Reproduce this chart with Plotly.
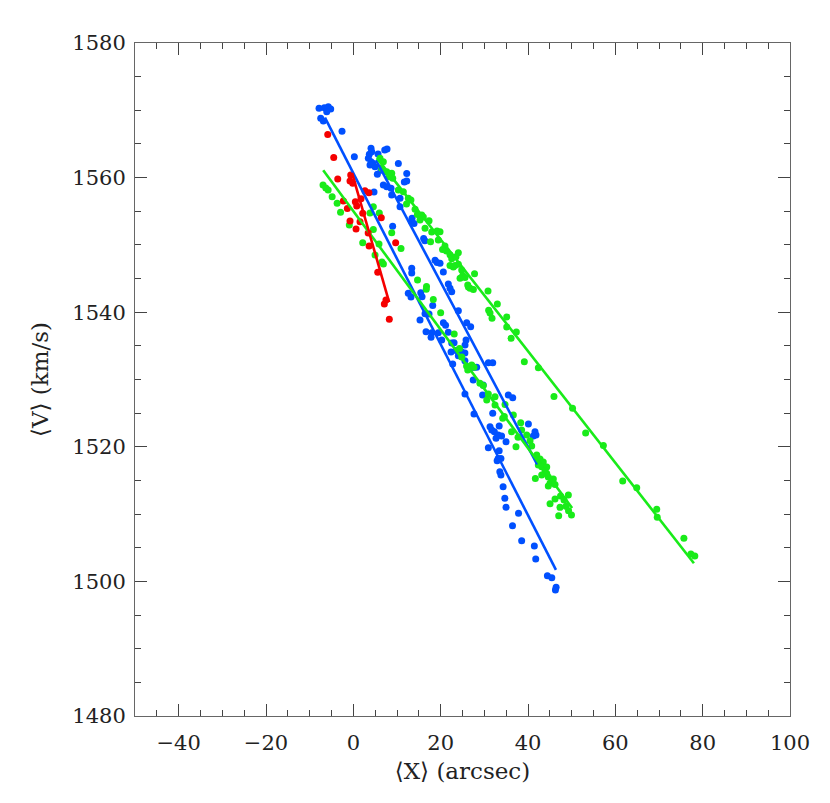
import plotly.graph_objects as go

# ---- data ----
red_x = [-5.86, -4.49, -3.57, -0.6, -0.76, -0.14, 2.66, 3.57, 1.76, -2.29, 0.46, 0.78, -1.37,
         2.15, -0.76, 1.53, 0.62, 3.4, 3.61, 6.4, 9.69, 5.59, 7.47, 7.1, 8.24]
red_y = [1566.4, 1563.0, 1559.8, 1560.4, 1559.5, 1559.15, 1558.05, 1557.76, 1556.87, 1556.52,
         1556.42, 1555.78, 1555.41, 1554.7, 1553.55, 1553.45, 1552.36, 1551.77, 1549.84, 1554.04,
         1550.33, 1545.93, 1541.81, 1541.22, 1538.95]

blue_x = [-7.85, -6.64, -5.73, -5.18, -6.09, -7.47, -6.87, -2.59, 0.23, 4.05, 4.21, 3.66, 3.44,
          5.66, 7.19, 7.72, 3.82, 4.44, 4.97, 4.05, 5.50, 6.34, 10.31, 12.23, 6.87, 7.65, 8.64,
          11.68, 12.23, 4.74, 8.78, 10.69, 10.69, 13.44, 13.37, 13.9, 9.0, 16.1, 16.38, 18.72,
          19.18, 19.85, 13.37, 13.37, 20.61, 12.58, 13.2, 15.44, 15.74, 21.75, 22.14, 22.53,
          18.18, 16.42, 17.33, 24.05, 15.27, 20.62, 21.12, 25.96, 26.87, 16.65, 17.96, 17.8,
          19.46, 21.75, 20.24, 22.53, 23.07, 25.81, 25.58, 22.37, 23.51, 24.8, 25.55, 24.05,
          25.55, 22.76, 27.11, 27.63, 28.25, 30.92, 31.92, 27.45, 29.74, 25.56, 29.6, 35.49,
          36.5, 27.63, 31.92, 31.3, 31.69, 32.29, 33.4, 33.17, 33.95, 40.09, 41.6, 41.83, 41.22,
          32.68, 34.97, 30.92, 33.4, 33.17, 33.8, 32.93, 33.55, 33.8, 34.3, 34.69, 34.97, 37.83,
          36.45, 38.55, 41.45, 41.77, 44.44, 45.45, 46.44, 46.28]
blue_y = [1570.3, 1570.39, 1570.53, 1570.19, 1569.79, 1568.81, 1568.41, 1566.88, 1563.11, 1564.35,
          1563.85, 1563.46, 1562.87, 1563.51, 1564.1, 1564.25, 1561.87, 1562.12, 1561.62, 1562.36,
          1560.49, 1561.08, 1562.1, 1560.61, 1558.9, 1558.65, 1558.41, 1559.35, 1559.5, 1557.86,
          1557.41, 1556.92, 1555.68, 1553.95, 1553.45, 1553.18, 1552.76, 1550.95, 1550.62, 1547.71,
          1547.38, 1547.27, 1546.52, 1545.82, 1545.97, 1542.81, 1542.26, 1542.9, 1542.3, 1544.19,
          1543.55, 1543.05, 1541.0, 1539.78, 1539.73, 1540.22, 1538.83, 1538.45, 1538.05, 1538.44,
          1537.85, 1537.1, 1536.95, 1536.27, 1536.95, 1537.01, 1535.87, 1535.42, 1535.47, 1535.87,
          1535.13, 1534.09, 1534.31, 1534.09, 1533.93, 1533.54, 1532.8, 1532.3, 1531.81, 1531.81,
          1531.81, 1532.5, 1532.5, 1529.93, 1529.18, 1527.85, 1527.7, 1527.7, 1527.3, 1524.87,
          1524.97, 1522.99, 1522.5, 1522.24, 1523.09, 1521.75, 1521.6, 1523.39, 1522.24, 1521.75,
          1521.6, 1521.26, 1520.75, 1519.86, 1519.41, 1518.28, 1518.28, 1517.93, 1516.3, 1515.81,
          1514.07, 1512.35, 1511.01, 1510.12, 1508.28, 1506.05, 1505.26, 1503.33, 1500.85, 1500.55,
          1499.12, 1498.72]

green_x = [-6.94, -6.30, -5.77, -4.85, -3.71, -2.93, -0.92, 2.15, 3.82, 4.58, 5.95, 4.58, 8.79,
           5.88, 4.97, 6.55, 6.89, 10.92, 14.7, 16.76, 16.71, 18.31, 20.0, 23.1, 24.32, 24.82,
           25.93, 26.2, 27.11, 27.63, 28.99, 29.76, 30.92, 30.55, 32.45, 32.45, 34.74, 34.21,
           34.58, 36.64, 36.23, 38.33, 38.54, 37.25, 37.72, 39.7, 40.46, 40.85, 42.0, 42.75,
           43.5, 42.36, 43.14, 44.29, 43.9, 44.29, 44.65, 43.14, 41.68, 45.8, 45.05, 44.65,
           46.19, 46.19, 47.45, 48.25, 49.24, 45.05, 47.33, 48.71, 49.28, 49.96, 47.03,
           6.11, 6.87, 6.49, 7.65, 8.79, 9.02, 8.24, 10.31, 11.45, 12.6, 13.19, 12.18, 14.14,
           14.67, 15.66, 16.03, 15.27, 17.34, 16.42, 17.95, 19.16, 19.85, 19.46, 17.68, 20.98,
           21.33, 20.43, 22.14, 22.53, 24.05, 23.51, 22.14, 23.28, 24.05, 22.9, 24.82, 25.05,
           25.58, 24.44, 26.2, 26.73, 27.49, 26.35, 27.76, 30.84, 32.98, 30.99, 31.3, 31.76,
           35.13, 35.13, 37.33, 36.13, 39.16, 42.37, 45.95, 50.2, 53.2, 57.26, 61.69, 64.9,
           69.48, 69.6, 75.7, 77.3, 78.2]
green_y = [1558.9, 1558.46, 1558.16, 1557.16, 1556.18, 1554.84, 1552.96, 1550.33, 1554.74, 1555.68,
           1554.74, 1552.29, 1551.81, 1550.13, 1548.5, 1547.46, 1547.16, 1549.47, 1544.78, 1543.82,
           1543.4, 1541.89, 1539.93, 1536.76, 1534.61, 1533.34, 1532.0, 1531.41, 1532.15, 1531.81,
           1529.43, 1529.1, 1527.85, 1526.95, 1527.44, 1526.21, 1526.28, 1524.23, 1524.5, 1524.72,
           1522.24, 1523.58, 1522.5, 1520.01, 1521.41, 1521.75, 1520.91, 1520.12, 1518.78, 1518.19,
           1517.74, 1517.3, 1517.04, 1517.0, 1516.4, 1516.03, 1515.51, 1515.81, 1515.3, 1515.22,
           1514.58, 1514.18, 1514.4, 1512.24, 1512.69, 1512.09, 1512.83, 1511.55, 1511.0, 1511.15,
           1510.51, 1509.88, 1509.76,
           1562.87, 1562.36, 1561.38, 1560.88, 1560.64, 1559.9, 1560.13, 1558.16, 1557.9, 1556.92,
           1556.67, 1556.08, 1555.29, 1554.52, 1554.44, 1554.15, 1553.7, 1553.6, 1552.47, 1551.92,
           1552.07, 1551.96, 1550.73, 1550.48, 1549.84, 1549.09, 1549.32, 1548.54, 1547.93, 1548.84,
           1548.25, 1546.94, 1546.94, 1547.12, 1546.72, 1546.26, 1545.44, 1545.15, 1545.03, 1544.04,
           1543.55, 1543.37, 1543.74, 1545.72, 1543.15, 1541.22, 1540.28, 1539.88, 1539.09, 1539.29,
           1537.8, 1537.06, 1536.12, 1532.64, 1531.76, 1527.46, 1525.72, 1522.05, 1520.19, 1514.92,
           1513.92, 1510.71, 1509.52, 1506.4, 1504.07, 1503.77]

# fitted lines (endpoints)
red_fit_x = [-0.3, 8.2]
red_fit_y = [1560.7, 1541.5]
blue_fit1_x = [-6.5, 46.4]
blue_fit1_y = [1568.9, 1501.7]
blue_fit2_x = [5.2, 42.1]
blue_fit2_y = [1562.6, 1517.4]
green_fit1_x = [-6.9, 50.1]
green_fit1_y = [1561.1, 1510.9]
green_fit2_x = [5.4, 78.0]
green_fit2_y = [1562.9, 1502.7]

x_ticks = [-40, -20, 0, 20, 40, 60, 80, 100]
y_ticks = [1480, 1500, 1520, 1540, 1560, 1580]

RED = "rgb(245,0,0)"
BLUE = "rgb(0,80,255)"
GREEN = "rgb(25,235,25)"

fig = go.Figure()

def pts(x, y, c):
    fig.add_trace(go.Scatter(x=x, y=y, mode="markers",
                             marker=dict(color=c, size=7, line=dict(width=0)),
                             showlegend=False, hoverinfo="skip"))

def ln(x, y, c):
    fig.add_trace(go.Scatter(x=x, y=y, mode="lines", line=dict(color=c, width=2.6),
                             showlegend=False, hoverinfo="skip"))

pts(blue_x, blue_y, BLUE)
pts(green_x, green_y, GREEN)
pts(red_x, red_y, RED)
ln(blue_fit1_x, blue_fit1_y, BLUE)
ln(blue_fit2_x, blue_fit2_y, BLUE)
ln(green_fit1_x, green_fit1_y, GREEN)
ln(green_fit2_x, green_fit2_y, GREEN)
ln(red_fit_x, red_fit_y, RED)

FONT = "DejaVu Serif"
axis_common = dict(
    showgrid=False, zeroline=False, showline=True, linecolor="#666", linewidth=1,
    mirror="ticks", ticks="inside", ticklen=12, tickwidth=1, tickcolor="#444",
    tickfont=dict(family=FONT, size=21, color="#222"),
)

fig.update_xaxes(
    range=[-50, 100], tickvals=x_ticks, ticktext=[("\u2212" + str(-v)) if v < 0 else str(v) for v in x_ticks],
    minor=dict(dtick=5, tick0=0, ticks="inside", ticklen=6, tickcolor="#444", showgrid=False),
    ticklabelstandoff=8,
    title=dict(text="\u27e8X\u27e9 (arcsec)", font=dict(family=FONT, size=23, color="#222"), standoff=8),
    **axis_common,
)
fig.update_yaxes(
    range=[1480, 1580], tickvals=y_ticks, ticktext=[str(v) for v in y_ticks],
    minor=dict(dtick=5, tick0=0, ticks="inside", ticklen=6, tickcolor="#444", showgrid=False),
    ticklabelstandoff=4,
    title=dict(text="\u27e8V\u27e9 (km/s)", font=dict(family=FONT, size=23, color="#222"), standoff=17),
    **axis_common,
)

fig.update_layout(
    width=822, height=795,
    margin=dict(l=127, r=40, t=35, b=87),
    plot_bgcolor="white", paper_bgcolor="white",
)

fig.write_html("out.html")
